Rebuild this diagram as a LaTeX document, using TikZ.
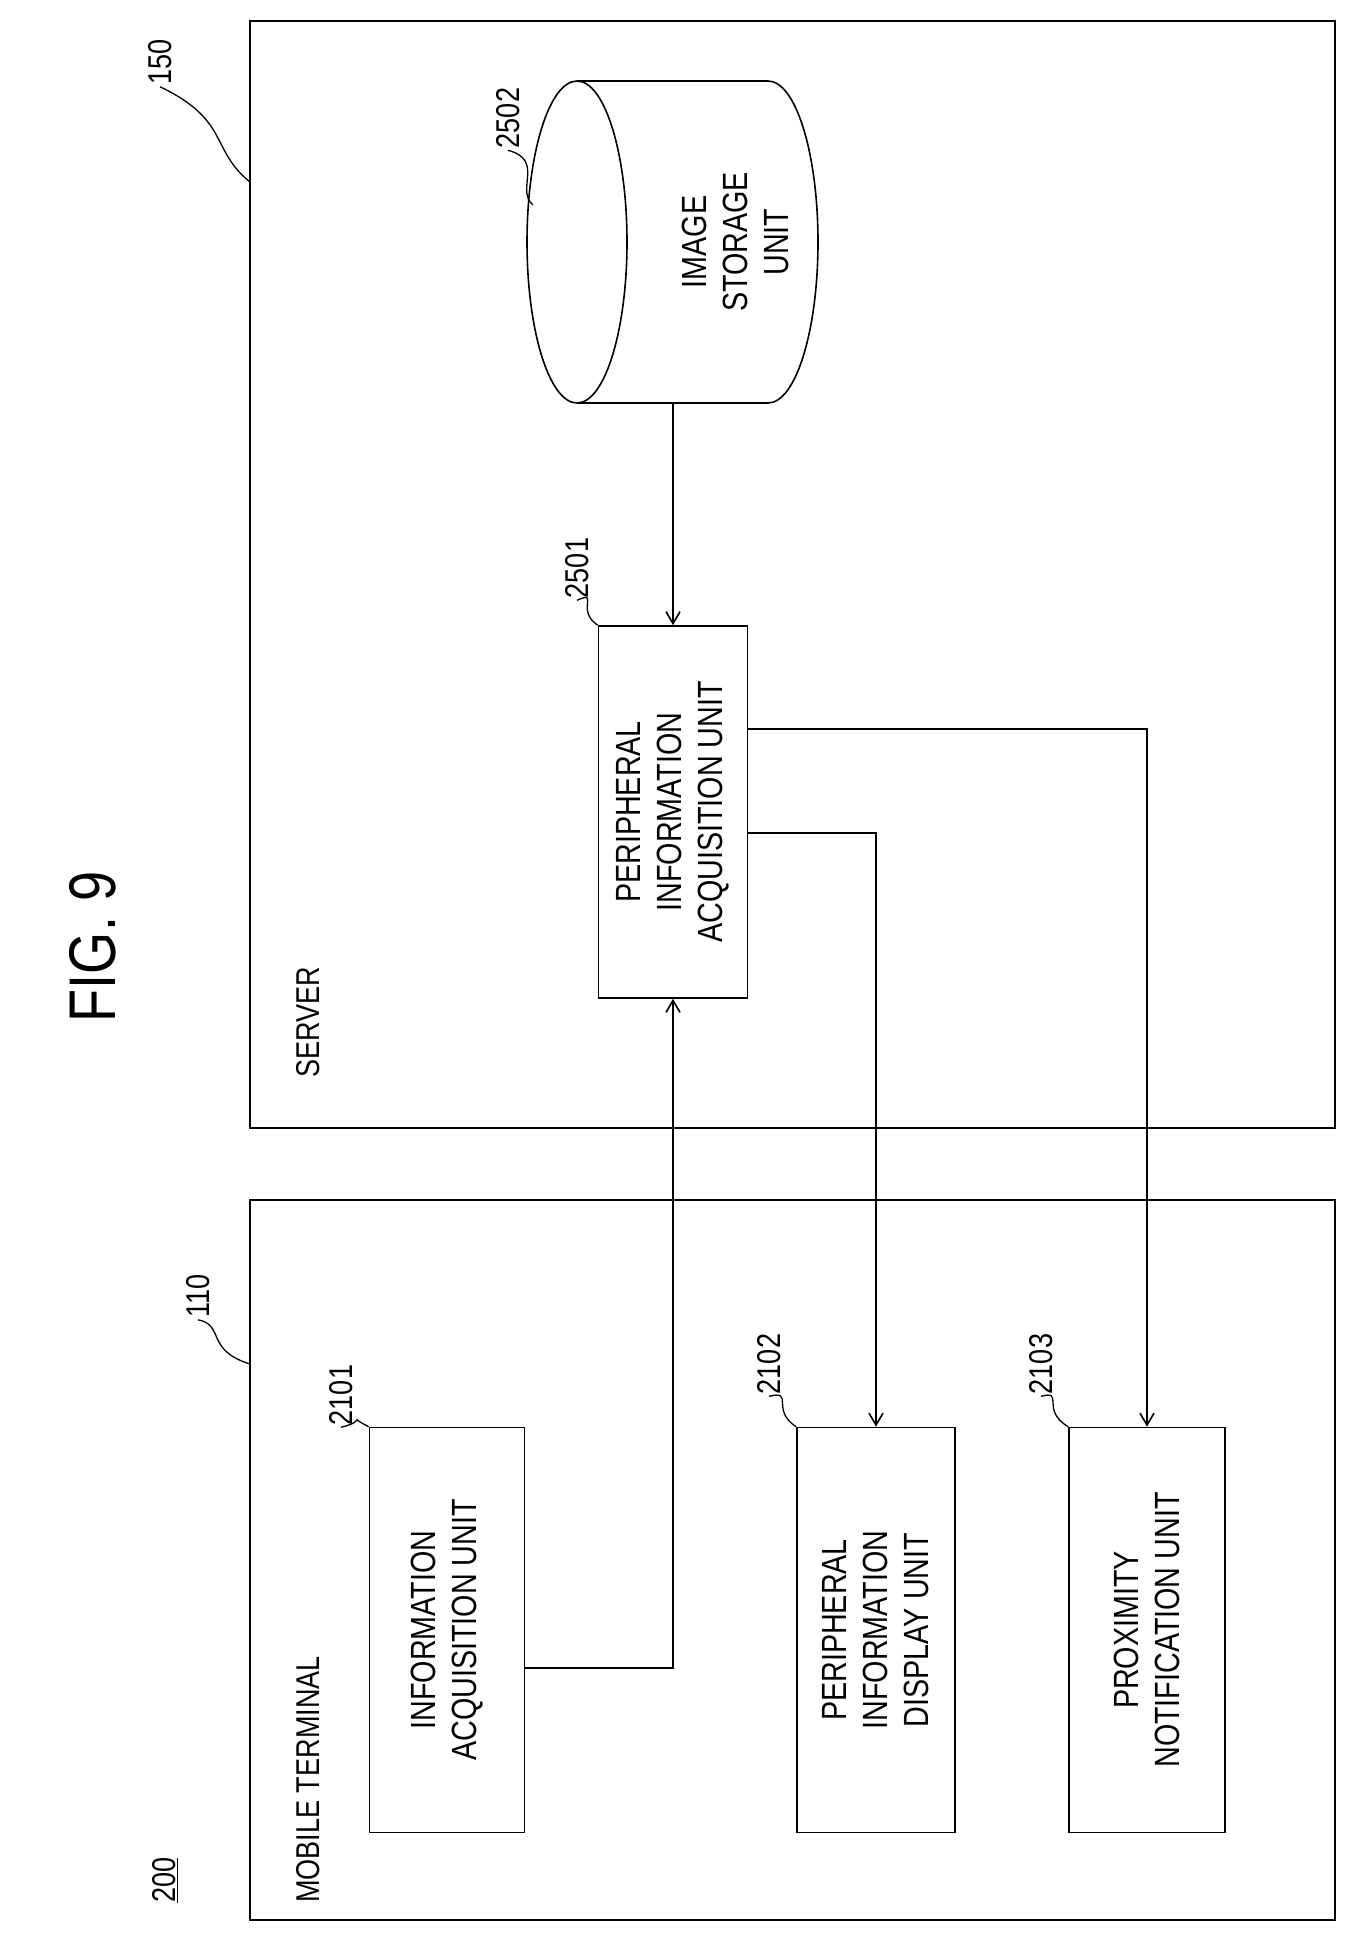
\documentclass[tikz,border=0pt]{standalone}
\usepackage{fontspec}
\setmainfont{Liberation Sans}[FakeStretch=0.82]
\usetikzlibrary{arrows.meta}
\tikzstyle{unit}=[draw=black, line width=1.6pt, rotate=90, align=center, font=\fontsize{35}{41}\selectfont, inner sep=0pt]
\tikzstyle{frame}=[draw=black, line width=1.6pt]
\tikzstyle{label}=[rotate=90, font=\fontsize{33}{36}\selectfont, inner sep=2pt]
\tikzstyle{lead}=[-, line width=1.3pt]
\tikzstyle{flow}=[->, line width=1.6pt, >={Straight Barb[length=12pt, width=14pt]}]
\begin{document}
\begin{tikzpicture}[x=1pt, y=-1pt]
	\useasboundingbox (0,0) rectangle (1363,1951);
	% frames
	\draw [style=frame] (250,21) rectangle (1335,1128);
	\draw [style=frame] (250,1200) rectangle (1335,1920);
	\node [style=label, font=\fontsize{66}{70}\selectfont] (fig) at (93,947) {FIG. 9};
	\node [style=label, anchor=south west] (ref200) at (180,1905) {\underline{200}};
	\node [style=label, anchor=south west] (server) at (322,1080) {SERVER};
	\node [style=label, anchor=south west] (mobile) at (322,1905) {MOBILE TERMINAL};
	% server units
	\draw [line width=1.6pt] (577,81) -- (768,81) arc[start angle=90, end angle=-90, x radius=50, y radius=-161] -- (577,403);
	\draw [line width=1.6pt] (577,242) ellipse[x radius=50, y radius=161];
	\coordinate (2502) at (673,403);
	\node [style=label, align=center, font=\fontsize{35}{41}\selectfont] (2502t) at (735,242) {IMAGE\\STORAGE\\UNIT};
	\node [style=unit, minimum width=372pt, minimum height=149pt] (2501) at (673,812) {PERIPHERAL\\INFORMATION\\ACQUISITION UNIT};
	% terminal units
	\node [style=unit, minimum width=405pt, minimum height=155pt] (2101) at (447,1630) {INFORMATION\\ACQUISITION UNIT};
	\node [style=unit, minimum width=405pt, minimum height=158pt] (2102) at (876,1630) {PERIPHERAL\\INFORMATION\\DISPLAY UNIT};
	\node [style=unit, minimum width=405pt, minimum height=156pt] (2103) at (1147,1630) {PROXIMITY\\NOTIFICATION UNIT};
	% reference numerals
	\node [style=label] (n150) at (160,62) {150};
	\node [style=label] (n2502) at (508,118) {2502};
	\node [style=label] (n2501) at (577,568) {2501};
	\node [style=label] (n110) at (198,1296) {110};
	\node [style=label] (n2101) at (341,1395) {2101};
	\node [style=label] (n2102) at (769,1364) {2102};
	\node [style=label] (n2103) at (1041,1364) {2103};
	\draw [style=lead] (n150.west) .. controls (230,120) and (210,150) .. (250,182);
	\draw [style=lead] (n2502.west) .. controls (545,160) and (515,190) .. (533,205);
	\draw [style=lead] (n2501.west) .. controls (600,590) and (575,610) .. (2501.north east);
	\draw [style=lead] (n110.west) .. controls (225,1325) and (205,1350) .. (250,1364);
	\draw [style=lead] (n2101.west) .. controls (370,1420) and (345,1415) .. (2101.north east);
	\draw [style=lead] (n2102.west) .. controls (795,1390) and (770,1410) .. (2102.north east);
	\draw [style=lead] (n2103.west) .. controls (1065,1390) and (1040,1410) .. (2103.north east);
	% connectors
	\draw [style=flow] (2502) -- (2501.east);
	\draw [style=flow] (2101.south |- 0,1668) -| (2501.west);
	\draw [style=flow] (2501.south |- 0,833) -| (2102.east);
	\draw [style=flow] (2501.south |- 0,729) -| (2103.east);
\end{tikzpicture}
\end{document}
